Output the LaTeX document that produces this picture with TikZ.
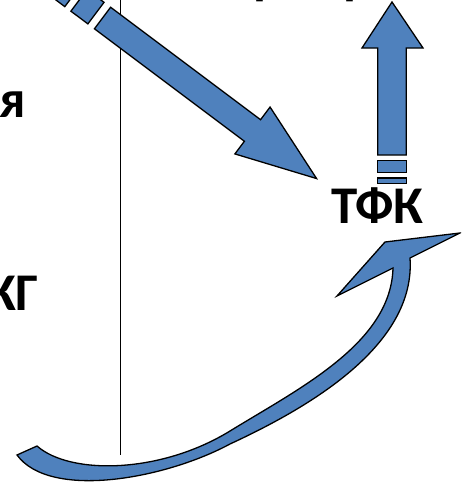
\documentclass[tikz,border=0pt]{standalone}
\usepackage{fontspec}
\setmainfont{Carlito}
\definecolor{arrowblue}{HTML}{4F81BD}
\tikzset{
  blockarrow/.style={fill=arrowblue, draw=black, line width=1.3pt, line join=miter},
  lbl/.style={font=\fontsize{53}{53}\selectfont\bfseries, inner sep=0pt, text=black},
}
\begin{document}
\begin{tikzpicture}[x=1pt,y=-1pt]
\useasboundingbox (0,0) rectangle (461,482);
\clip (0,0) rectangle (461,482);

% thin divider
\draw[line width=0.9pt] (120,0) -- (120,455);

% striped arrow coming down from the upper left
\begin{scope}[shift={(102.5,18)}, rotate=-36.87]
  \draw[blockarrow] (-48,-13.5) -- (-37,-13.5) -- (-37,13.5) -- (-48,13.5) -- cycle;
  \draw[blockarrow] (-29.4,-13.5) -- (-8.2,-13.5) -- (-8.2,13.5) -- (-29.4,13.5) -- cycle;
  \draw[blockarrow] (0,-13.5) -- (187.5,-13.5) -- (187.5,-29.3) -- (267.6,0)
    -- (187.5,29.3) -- (187.5,13.5) -- (0,13.5) -- cycle;
\end{scope}

% striped arrow pointing up
\draw[blockarrow] (377.7,155) -- (377.7,48) -- (362,48) -- (392,2) -- (423,48)
  -- (406.3,48) -- (406.3,155) -- cycle;
\draw[blockarrow] (377.7,160.5) -- (406.3,160.5) -- (406.3,172.5) -- (377.7,172.5) -- cycle;
\draw[blockarrow] (377.7,178) -- (406.3,178) -- (406.3,183.5) -- (377.7,183.5) -- cycle;

% curved arrow sweeping up to the right
\draw[blockarrow] (37,446) .. controls (70,475) and (160,474) .. (230,431)
  .. controls (300,388) and (391,343) .. (393,268)
  -- (337,296) -- (385,242) -- (460,233) -- (410,258)
  .. controls (416,345) and (310,407) .. (230,444)
  .. controls (165,479) and (50,500) .. (17,455) -- cycle;

% labels
\node[lbl, anchor=base] (tfk) at (377.5,223) {ТФК};
\node[lbl, anchor=base east] (ya) at (26,117) {я};
\node[lbl, anchor=base east] (kg) at (39,310) {КГ};
\node[lbl, anchor=base west] (r1) at (253,-7) {р};
\node[lbl, anchor=base west] (r2) at (343,-7) {р};
\end{tikzpicture}
\end{document}
